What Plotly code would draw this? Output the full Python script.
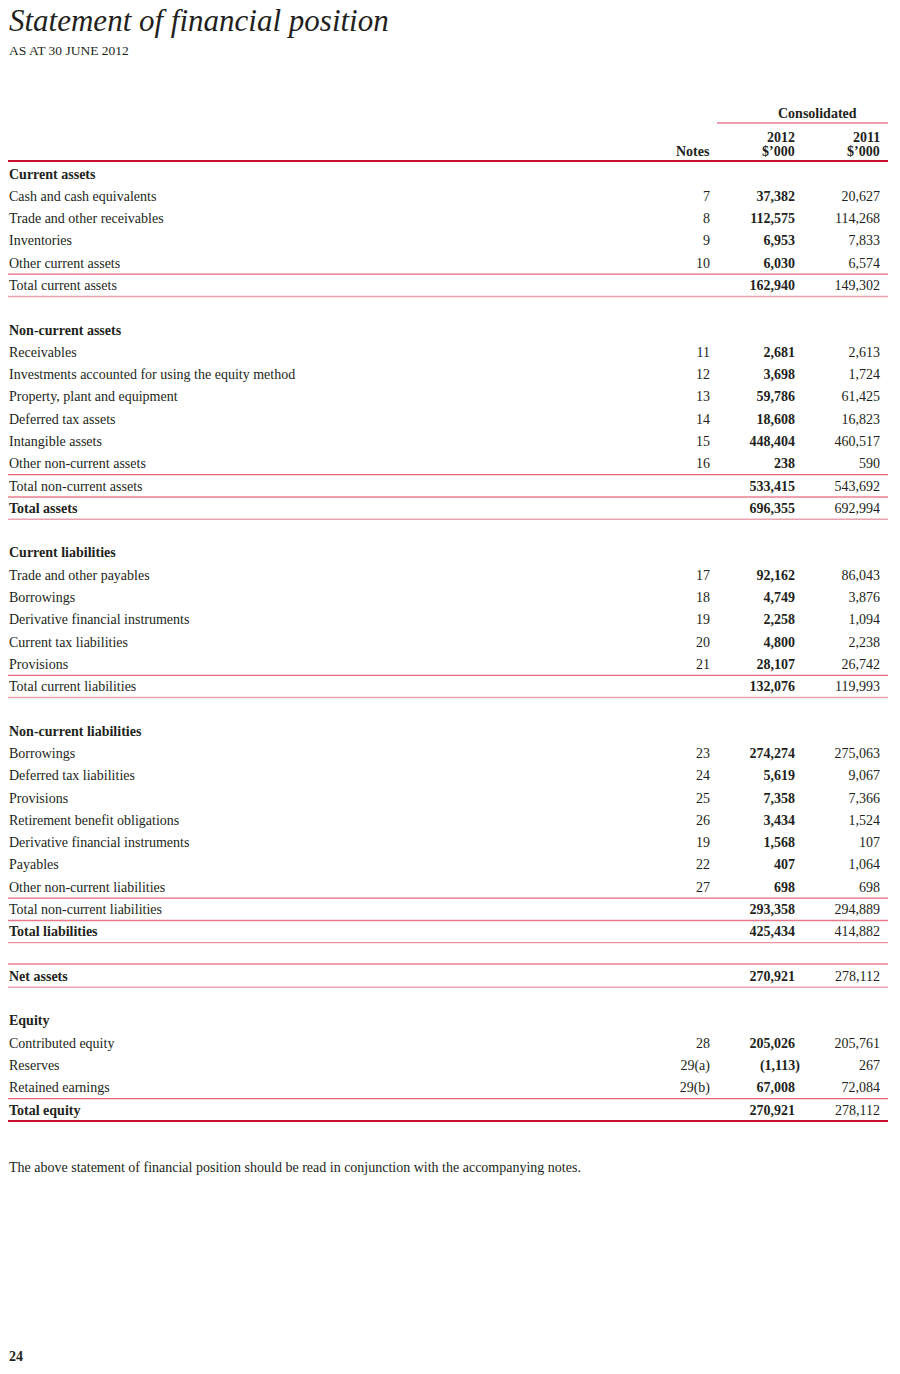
import plotly.graph_objects as go

# ---------------- data ----------------
row_labels = [
    "Current assets", "Cash and cash equivalents", "Trade and other receivables", "Inventories",
    "Other current assets", "Total current assets", "",
    "Non-current assets", "Receivables", "Investments accounted for using the equity method",
    "Property, plant and equipment", "Deferred tax assets", "Intangible assets",
    "Other non-current assets", "Total non-current assets", "Total assets", "",
    "Current liabilities", "Trade and other payables", "Borrowings", "Derivative financial instruments",
    "Current tax liabilities", "Provisions", "Total current liabilities", "",
    "Non-current liabilities", "Borrowings", "Deferred tax liabilities", "Provisions",
    "Retirement benefit obligations", "Derivative financial instruments", "Payables",
    "Other non-current liabilities", "Total non-current liabilities", "Total liabilities", "",
    "Net assets", "",
    "Equity", "Contributed equity", "Reserves", "Retained earnings", "Total equity",
]
row_notes = [
    "", "7", "8", "9", "10", "", "",
    "", "11", "12", "13", "14", "15", "16", "", "", "",
    "", "17", "18", "19", "20", "21", "", "",
    "", "23", "24", "25", "26", "19", "22", "27", "", "", "",
    "", "",
    "", "28", "29(a)", "29(b)", "",
]
values_2012 = [
    None, 37382, 112575, 6953, 6030, 162940, None,
    None, 2681, 3698, 59786, 18608, 448404, 238, 533415, 696355, None,
    None, 92162, 4749, 2258, 4800, 28107, 132076, None,
    None, 274274, 5619, 7358, 3434, 1568, 407, 698, 293358, 425434, None,
    270921, None,
    None, 205026, -1113, 67008, 270921,
]
values_2011 = [
    None, 20627, 114268, 7833, 6574, 149302, None,
    None, 2613, 1724, 61425, 16823, 460517, 590, 543692, 692994, None,
    None, 86043, 3876, 1094, 2238, 26742, 119993, None,
    None, 275063, 9067, 7366, 1524, 107, 1064, 698, 294889, 414882, None,
    278112, None,
    None, 205761, 267, 72084, 278112,
]
bold_labels = {"Current assets", "Non-current assets", "Current liabilities", "Non-current liabilities",
               "Equity", "Total assets", "Total liabilities", "Net assets", "Total equity"}

title = "Statement of financial position"
subtitle = "AS AT 30 JUNE 2012"
col_group = "Consolidated"
col_years = ["2012", "2011"]
col_unit = "$’000"
notes_head = "Notes"
footnote = "The above statement of financial position should be read in conjunction with the accompanying notes."
page_no = "24"

# ---------------- layout constants ----------------
W, H = 900, 1374
Y0, PITCH = 175.0, 936.0 / 42
X_LABEL, X_NOTES, X_2012, X_2011 = 9, 710, 795, 880
FONT = "Liberation Serif"
FS = 14
TXT = "#231f20"
RED = "#e0405a"
RED_LIGHT = "#eba2b0"
RED_MID = "#e8778a"
RED_DARK = "#c8102e"

# rules: (row index, offset, colour, width)
rules = [
    (4, 10, RED, 1), (5, 10, RED_LIGHT, 1.5),
    (13, 10, RED, 1), (14, 10, RED, 1), (15, 10, RED_LIGHT, 1.5),
    (22, 10, RED, 1), (23, 10, RED_LIGHT, 1.5),
    (32, 10, RED, 1), (33, 10, RED_MID, 1.5), (34, 10, RED_MID, 1),
    (35, 9, RED, 1), (36, 10, RED_LIGHT, 1.5),
    (41, 10, RED, 1), (42, 10, RED_DARK, 2),
]


def fmt(v):
    if v is None:
        return ""
    s = f"{abs(v):,}"
    return f"({s})" if v < 0 else s


ys = [Y0 + i * PITCH for i in range(len(row_labels))]

fig = go.Figure()

# labels
lab_txt = [f"<b>{l}</b>" if l in bold_labels else l for l in row_labels]
fig.add_trace(go.Scatter(x=[X_LABEL] * len(ys), y=ys, mode="text", text=lab_txt,
                         textposition="middle right",
                         textfont=dict(family=FONT, size=FS, color=TXT), hoverinfo="skip"))
# notes
fig.add_trace(go.Scatter(x=[X_NOTES] * len(ys), y=ys, mode="text", text=row_notes,
                         textposition="middle left",
                         textfont=dict(family=FONT, size=FS, color=TXT), hoverinfo="skip"))
# 2012 (bold) - negatives hang the closing parenthesis
x12 = [X_2012 + (5 if (v is not None and v < 0) else 0) for v in values_2012]
fig.add_trace(go.Scatter(x=x12, y=ys, mode="text",
                         text=[f"<b>{fmt(v)}</b>" if v is not None else "" for v in values_2012],
                         textposition="middle left",
                         textfont=dict(family=FONT, size=FS, color=TXT), hoverinfo="skip"))
# 2011
fig.add_trace(go.Scatter(x=[X_2011] * len(ys), y=ys, mode="text",
                         text=[fmt(v) for v in values_2011],
                         textposition="middle left",
                         textfont=dict(family=FONT, size=FS, color=TXT), hoverinfo="skip"))

shapes = []
for r, off, col, w in rules:
    y = ys[r] + off
    shapes.append(dict(type="line", xref="x", yref="y", x0=8, x1=888, y0=y, y1=y,
                       line=dict(color=col, width=w)))
# header rules
shapes.append(dict(type="line", xref="x", yref="y", x0=717, x1=888, y0=123, y1=123,
                   line=dict(color=RED, width=1.2)))
shapes.append(dict(type="line", xref="x", yref="y", x0=8, x1=888, y0=161, y1=161,
                   line=dict(color=RED_DARK, width=2)))

ann = []
def a(x, y, t, size=FS, xanchor="left", bold=False, italic=False, color=TXT):
    if bold:
        t = f"<b>{t}</b>"
    if italic:
        t = f"<i>{t}</i>"
    ann.append(dict(x=x, y=y, xref="x", yref="y", text=t, showarrow=False,
                    xanchor=xanchor, yanchor="middle", borderpad=0,
                    font=dict(family=FONT, size=size, color=color)))

a(8, 20, title, size=31, italic=True)
a(8, 50, subtitle, size=13.5)
a(817, 113, col_group, size=FS, xanchor="center", bold=True)
a(X_2012 + 1, 137, col_years[0], size=FS, xanchor="right", bold=True)
a(X_2011 + 1, 137, col_years[1], size=FS, xanchor="right", bold=True)
a(X_2012 + 1, 151, col_unit, size=FS, xanchor="right", bold=True)
a(X_2011 + 1, 151, col_unit, size=FS, xanchor="right", bold=True)
a(X_NOTES + 1, 151, notes_head, size=FS, xanchor="right", bold=True)
a(8, 1167, footnote, size=FS)
a(8, 1356, page_no, size=FS, bold=True)

fig.update_layout(
    width=W, height=H, margin=dict(l=0, r=0, t=0, b=0),
    paper_bgcolor="white", plot_bgcolor="white", showlegend=False,
    hovermode=False, dragmode=False,
    xaxis=dict(range=[0, W], visible=False, fixedrange=True),
    yaxis=dict(range=[H, 0], visible=False, fixedrange=True),
    shapes=shapes, annotations=ann,
)
fig.write_html("out.html", config={"displayModeBar": False},
               post_script="document.body.style.margin='0';")
